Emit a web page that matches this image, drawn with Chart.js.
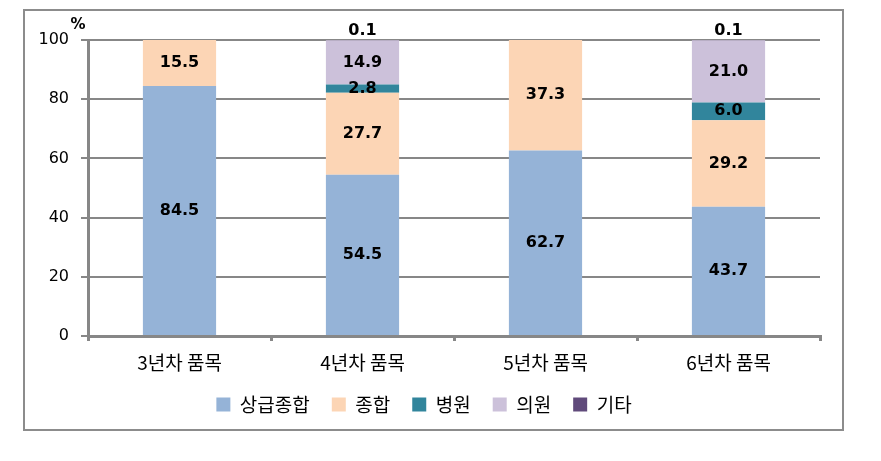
<!DOCTYPE html>
<html>
<head>
<meta charset="utf-8">
<script src="https://cdn.jsdelivr.net/npm/chart.js@4"></script>
<style>
  html, body { margin: 0; padding: 0; background: #fff; }
  #wrap { width: 881px; height: 461px; }
</style>
</head>
<body>
<div id="wrap"><canvas id="chart" width="881" height="461"></canvas></div>
<script>
// Data
const categories = ["3년차 품목", "4년차 품목", "5년차 품목", "6년차 품목"];
const seriesNames = ["상급종합", "종합", "병원", "의원", "기타"];
const tertiary = [84.5, 54.5, 62.7, 43.7];
const general = [15.5, 27.7, 37.3, 29.2];
const hospital = [0, 2.8, 0, 6.0];
const clinic = [0, 14.9, 0, 21.0];
const other = [0, 0.1, 0, 0.1];
const yTicks = [0, 20, 40, 60, 80, 100];

const colors = ["#95B3D7", "#FCD5B5", "#31859C", "#CCC1DA", "#604A7B"];
const axisGrey = "#878787";
const korFont = "'Noto Sans CJK KR', 'DejaVu Sans', sans-serif";

// Outer frame and % unit
const framePlugin = {
  id: "frame",
  beforeDraw(chart) {
    const c = chart.ctx;
    c.save();
    c.fillStyle = "#fff";
    c.fillRect(0, 0, chart.width, chart.height);
    c.strokeStyle = "#8c8c8c";
    c.lineWidth = 2;
    c.strokeRect(24, 10, 819, 420);
    c.restore();
  },
  afterDraw(chart) {
    const c = chart.ctx;
    c.save();
    c.fillStyle = "#000";
    c.font = "bold 15px 'DejaVu Sans', sans-serif";
    c.textAlign = "center";
    c.textBaseline = "middle";
    c.fillText("%", 78, 25);
    c.restore();
  }
};

// Value labels on the bars
const valueLabels = {
  id: "valueLabels",
  afterDatasetsDraw(chart) {
    const c = chart.ctx;
    c.save();
    c.fillStyle = "#000";
    c.font = "bold 16px 'DejaVu Sans', sans-serif";
    c.textAlign = "center";
    c.textBaseline = "middle";
    chart.data.datasets.forEach((ds, i) => {
      const meta = chart.getDatasetMeta(i);
      meta.data.forEach((bar, j) => {
        const v = ds.data[j];
        if (!v) return;
        const y = v < 1 ? bar.y - 9 : (bar.y + bar.base) / 2;
        c.fillText(v.toFixed(1), bar.x, y);
      });
    });
    c.restore();
  }
};

const seriesData = [tertiary, general, hospital, clinic, other];

new Chart(document.getElementById("chart"), {
  type: "bar",
  data: {
    labels: categories,
    datasets: seriesNames.map((name, i) => ({
      label: name,
      data: seriesData[i],
      backgroundColor: colors[i],
      borderWidth: 0,
      categoryPercentage: 1,
      barPercentage: 0.4
    }))
  },
  options: {
    responsive: false,
    animation: false,
    devicePixelRatio: 1,
    layout: { padding: { left: 28, right: 61, top: 40, bottom: 37 } },
    plugins: {
      tooltip: { enabled: false },
      legend: {
        position: "bottom",
        labels: {
          boxWidth: 14,
          boxHeight: 14,
          padding: 22,
          color: "#000",
          font: { family: korFont, size: 19 }
        }
      }
    },
    scales: {
      x: {
        stacked: true,
        afterFit: s => { s.height = 37; },
        grid: {
          drawOnChartArea: false,
          drawTicks: true,
          tickLength: 5,
          lineWidth: 3,
          color: axisGrey
        },
        border: { color: axisGrey, width: 3 },
        ticks: {
          color: "#000",
          padding: 10,
          font: { family: korFont, size: 19 }
        }
      },
      y: {
        stacked: true,
        min: 0,
        max: 100,
        afterFit: s => { s.width = 60; },
        afterBuildTicks: s => { s.ticks = yTicks.map(v => ({ value: v })); },
        grid: {
          color: axisGrey,
          lineWidth: 2,
          tickLength: 7
        },
        border: { color: axisGrey, width: 3 },
        ticks: {
          color: "#000",
          padding: 12,
          font: { family: "'DejaVu Sans', sans-serif", size: 16 }
        }
      }
    }
  },
  plugins: [framePlugin, valueLabels]
});
</script>
</body>
</html>
